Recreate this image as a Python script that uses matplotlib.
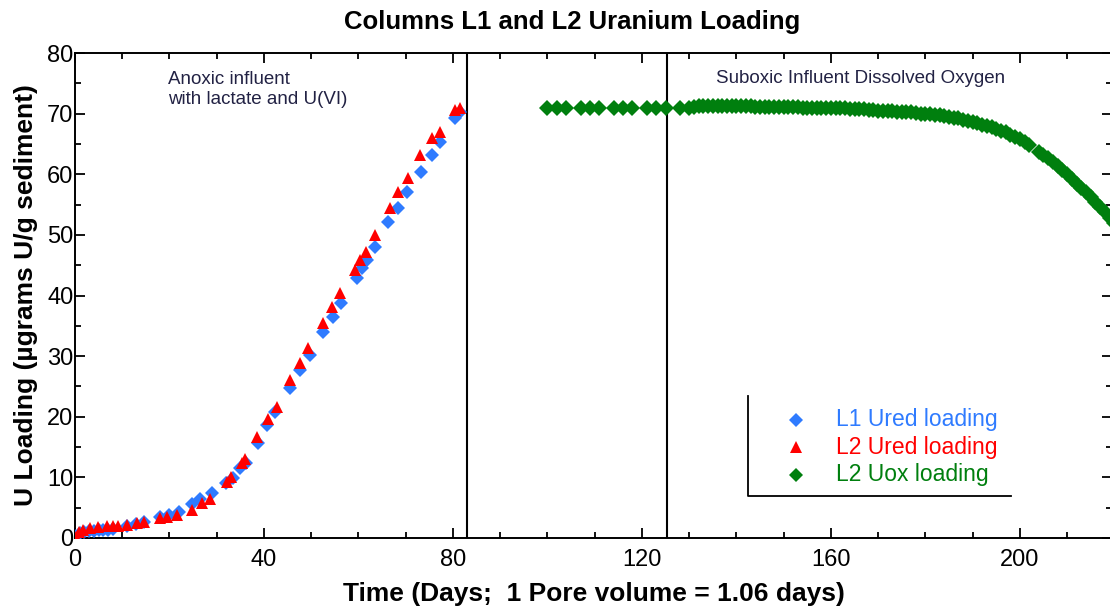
"""Columns L1 and L2 uranium loading versus time."""

import matplotlib

matplotlib.use("Agg")
import matplotlib.pyplot as plt
from matplotlib.ticker import MultipleLocator

plt.rcParams["font.family"] = ["Liberation Sans", "DejaVu Sans"]

BLUE = "#2f7bff"
RED = "#ff0000"
GREEN = "#007f0e"

# L1 reduced loading (blue diamonds)
l1_days = [0.0, 1.0, 2.0, 3.0, 4.0, 5.0, 6.0, 7.0, 8.0, 11.0, 13.0, 14.5, 18.0, 20.0, 22.0,
           24.7, 26.5, 29.0, 32.0, 33.5, 35.0, 36.3, 38.8, 40.6, 42.3, 45.5, 47.6, 49.7,
           52.5, 54.6, 56.2, 59.7, 60.7, 61.8, 63.5, 66.2, 68.4, 70.2, 73.2, 75.5, 77.2,
           80.4, 81.5]
l1_load = [0.3, 0.8, 1.0, 1.1, 1.2, 1.3, 1.3, 1.4, 1.5, 2.0, 2.3, 2.7, 3.4, 3.8, 4.3,
           5.6, 6.5, 7.4, 9.0, 9.9, 11.5, 12.3, 15.6, 18.6, 20.8, 24.8, 27.7, 30.2,
           34.0, 36.5, 38.8, 42.9, 44.5, 45.9, 48.0, 52.2, 54.4, 57.0, 60.3, 63.2, 65.4,
           69.3, 70.3]

# L2 reduced loading (red triangles)
l2_days = [0.2, 0.8, 1.7, 3.2, 4.9, 6.7, 8.0, 9.0, 11.0, 13.1, 14.5, 18.0, 19.5, 21.6,
           24.8, 26.9, 28.6, 32.2, 33.0, 35.3, 36.0, 38.5, 40.9, 42.7, 45.5, 47.6, 49.4,
           52.5, 54.4, 56.0, 59.3, 60.3, 61.7, 63.5, 66.7, 68.4, 70.5, 73.0, 75.5, 77.2,
           80.4, 81.5]
l2_load = [0.2, 1.0, 1.4, 1.6, 1.8, 2.0, 2.0, 2.0, 2.1, 2.4, 2.7, 3.3, 3.5, 3.8,
           4.6, 5.7, 6.5, 9.3, 10.0, 12.3, 13.0, 16.7, 19.7, 21.6, 26.0, 28.8, 31.3,
           35.4, 38.1, 40.4, 44.2, 45.9, 47.2, 50.0, 54.4, 57.0, 59.4, 63.2, 66.0, 67.0,
           70.6, 71.0]

# L2 oxidised loading (green diamonds)
ox_days = [100, 102, 104, 107, 109, 111, 114, 116, 118, 121, 123, 125, 128, 130,
           131, 132, 133, 134, 135, 136, 137, 138, 139, 140, 141, 142, 143, 144, 145,
           146, 147, 148, 149, 150, 151, 152, 153, 154, 155, 156, 157, 158, 159, 160,
           161, 162, 163, 164, 165, 166, 167, 168, 169, 170, 171, 172, 173, 174, 175,
           176, 177, 178, 179, 180, 181, 182, 183, 184, 185, 186, 187, 188, 189, 190,
           191, 192, 193, 194, 195, 196, 197, 198, 199, 200, 201, 202, 204, 205, 206,
           207, 208, 209, 210, 211, 212, 213, 214, 215, 216, 217, 218, 219, 220]
ox_load = [71.0, 71.0, 71.0, 71.0, 71.0, 71.0, 71.0, 71.0, 71.0, 71.0, 71.0, 71.0, 71.0, 71.0,
           71.1, 71.2, 71.2, 71.2, 71.2, 71.2, 71.2, 71.2, 71.2, 71.2, 71.2, 71.2, 71.2, 71.1, 71.1,
           71.1, 71.1, 71.1, 71.1, 71.1, 71.1, 71.1, 71.1, 71.0, 71.0, 71.0, 71.0, 71.0, 71.0, 71.0,
           71.0, 70.9, 70.9, 70.8, 70.8, 70.7, 70.7, 70.6, 70.6, 70.5, 70.5, 70.4, 70.4, 70.3, 70.3,
           70.2, 70.2, 70.1, 70.0, 70.0, 69.9, 69.8, 69.7, 69.6, 69.5, 69.3, 69.2, 69.0, 68.8, 68.6,
           68.4, 68.2, 68.0, 67.8, 67.5, 67.2, 66.9, 66.5, 66.2, 65.8, 65.3, 64.8, 63.7, 63.2, 62.6,
           62.0, 61.4, 60.7, 60.0, 59.2, 58.4, 57.7, 57.0, 56.2, 55.4, 54.6, 53.7, 52.8, 52.0]

phase_breaks = [83.0, 125.3]
legend_labels = ["L1 Ured loading", "L2 Ured loading", "L2 Uox loading"]

W, H = 1110, 616
fig = plt.figure(figsize=(W / 100, H / 100), dpi=100)
ax = fig.add_axes([75 / W, (H - 538) / H, 1037 / W, 485 / H])

ax.plot(l1_days, l1_load, "D", color=BLUE, ms=7.5, mew=0, zorder=3)
ax.plot(l2_days, l2_load, "^", color=RED, ms=9, mew=0, zorder=4)
ax.plot(ox_days, ox_load, "D", color=GREEN, ms=8.5, mew=0, zorder=3)
for xb in phase_breaks:
    ax.axvline(xb, color="black", lw=1.5, zorder=2)

ax.set_xlim(0, 219.5)
ax.set_ylim(0, 80)
ax.xaxis.set_major_locator(MultipleLocator(40))
ax.xaxis.set_minor_locator(MultipleLocator(10))
ax.yaxis.set_major_locator(MultipleLocator(10))
ax.yaxis.set_minor_locator(MultipleLocator(5))
ax.tick_params(which="both", direction="in", top=True, right=True, width=1.3, colors="black")
ax.tick_params(which="major", length=7, labelsize=17)
ax.tick_params(which="minor", length=4.5)
ax.tick_params(axis="x", pad=8)
ax.tick_params(axis="y", pad=1)
for spine in ax.spines.values():
    spine.set_linewidth(1.4)

ax.set_xlabel("Time (Days;  1 Pore volume = 1.06 days)", fontsize=19, fontweight="bold")
ax.set_ylabel("U Loading (\u00b5grams U/g sediment)", fontsize=19, fontweight="bold")
ax.xaxis.set_label_coords(0.5, -0.09)
ax.yaxis.set_label_coords(-0.036, 0.5)
fig.text(572 / W, 1 - 22 / H, "Columns L1 and L2 Uranium Loading", ha="center", va="center",
         fontsize=18.5, fontweight="bold")

ax.text(0.09, 0.962, "Anoxic influent\nwith lactate and U(VI)", transform=ax.transAxes,
        ha="left", va="top", fontsize=13.5, linespacing=1.2, color="#222244")
ax.text(0.618, 0.948, "Suboxic Influent Dissolved Oxygen", transform=ax.transAxes,
        ha="left", va="center", fontsize=13.5, color="#222244")

# hand-made legend with only left and bottom edges, as in the original
ax.plot([0.649, 0.649, 0.9025], [0.293, 0.0866, 0.0866], color="black", lw=1.3,
        transform=ax.transAxes, clip_on=False)
rows = [0.2433, 0.1876, 0.13]
styles = [("D", BLUE, 7), ("^", RED, 8.5), ("D", GREEN, 7)]
for yy, label, (mk, col, ms) in zip(rows, legend_labels, styles):
    ax.plot([0.695], [yy], mk, color=col, ms=ms, mew=0, transform=ax.transAxes)
    ax.text(0.7336, yy, label, transform=ax.transAxes, ha="left", va="center",
            fontsize=16.5, color=col)

fig.savefig("out.png", dpi=100)
